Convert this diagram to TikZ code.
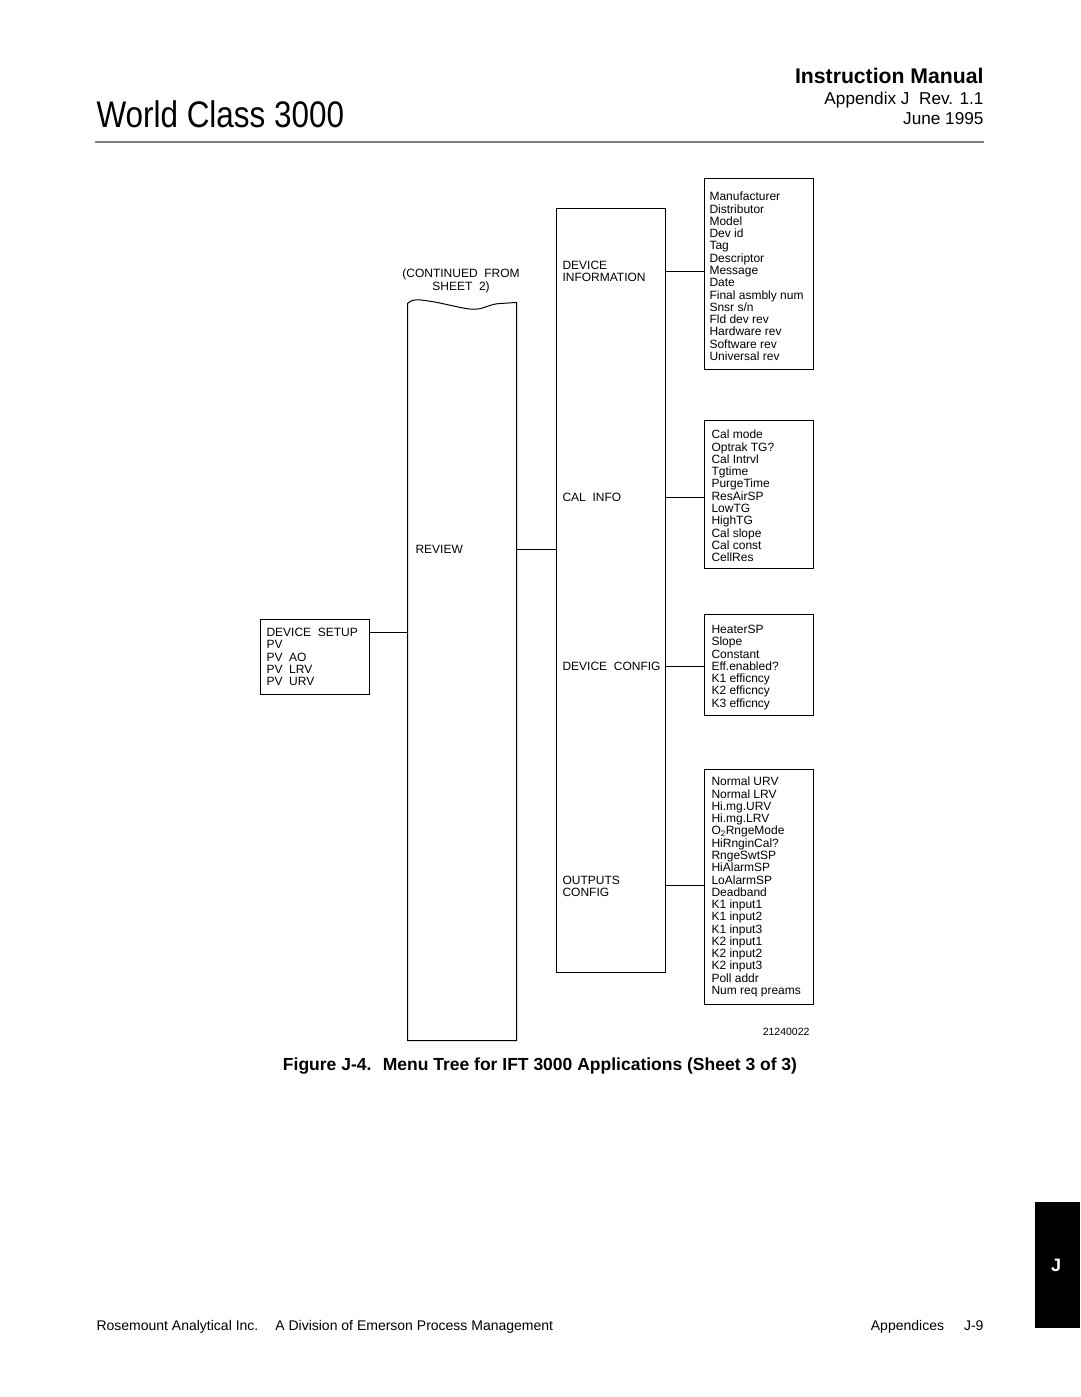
\documentclass[tikz,border=0pt]{standalone}
\usepackage{fontspec}
\setmainfont{Liberation Sans}
\newfontfamily\condfont[FakeStretch=0.85]{Liberation Sans}
\usetikzlibrary{calc}
\begin{document}
\begin{tikzpicture}[x=1pt,y=-1pt,line width=1pt,
  box/.style={draw,rectangle,inner sep=0pt,minimum width=109pt},
  lbl/.style={inner sep=0pt,anchor=north west,align=left,font=\fontsize{12}{12.27}\selectfont},
  conn/.style={draw,line width=1pt}]
\useasboundingbox (0,0) rectangle (1080,1397);

% ---------- header ----------
\node[inner sep=0pt,anchor=base west,font=\condfont\fontsize{37}{40}\selectfont] (title) at (96,127) {World Class 3000};
\node[inner sep=0pt,anchor=base east,font=\bfseries\fontsize{21.2}{24}\selectfont] (manual) at (984,84) {Instruction Manual};
\node[inner sep=0pt,anchor=base east,font=\fontsize{17.2}{20}\selectfont] (appx) at (984,104) {Appendix J~ Rev. 1.1};
\node[inner sep=0pt,anchor=base east,font=\fontsize{17.2}{20}\selectfont] (date) at (984,124) {June 1995};
\coordinate (ruleL) at (95,142);
\coordinate (ruleR) at (984,142);
\draw[gray,line width=1.2pt] (ruleL) -- (ruleR);

% ---------- diagram ----------
\node[lbl,anchor=north,align=center] (cont) at (461,268.7) {(CONTINUED~ FROM\\SHEET~ 2)};

% review column (wavy top)
\node[rectangle,inner sep=0pt,minimum width=108pt,minimum height=737pt] (review) at (462,671.5) {};
\draw ($(review.north west)+(0,1)$) .. controls (411,300) and (415,299) .. (425,300.5)
   .. controls (445,303) and (465,310) .. (476,309.2)
   .. controls (485,308.5) and (490,304) .. (500,303.5) -- (review.north east)
   -- (review.south east) -- (review.south west) -- cycle;
\node[lbl] (revlbl) at (415,544.7) {REVIEW};

% device setup box
\node[box,minimum height=75pt] (setup) at (314.5,656.5) {};
\node[lbl] (setuplbl) at (266,627.7) {DEVICE~ SETUP\\PV\\PV~ AO\\PV~ LRV\\PV~ URV};
\coordinate (setupY) at (0,632);
\draw (setup.east |- setupY) -- (review.west |- setupY);

% middle column
\node[box,minimum height=764pt] (mid) at (610.5,590) {};
\coordinate (revY) at (0,549);
\draw (review.east |- revY) -- (mid.west |- revY);

\node[lbl] (infolbl) at (562,260.7) {DEVICE\\INFORMATION};
\node[lbl] (callbl) at (562,492.7) {CAL~ INFO};
\node[lbl] (cfglbl) at (562,661.7) {DEVICE~ CONFIG};
\node[lbl] (outlbl) at (562,875.7) {OUTPUTS\\CONFIG};

% right boxes
\node[box,minimum height=191pt] (info) at (758.5,273.5) {};
\node[lbl] (infotxt) at (709,191.7) {Manufacturer\\Distributor\\Model\\Dev id\\Tag\\Descriptor\\Message\\Date\\Final asmbly num\\Snsr s/n\\Fld dev rev\\Hardware rev\\Software rev\\Universal rev};

\node[box,minimum height=148pt] (cal) at (758.5,494) {};
\node[lbl] (caltxt) at (711,429.7) {Cal mode\\Optrak TG?\\Cal Intrvl\\Tgtime\\PurgeTime\\ResAirSP\\LowTG\\HighTG\\Cal slope\\Cal const\\CellRes};

\node[box,minimum height=101pt] (cfg) at (758.5,664.5) {};
\node[lbl] (cfgtxt) at (711,624.7) {HeaterSP\\Slope\\Constant\\Eff.enabled?\\K1 efficncy\\K2 efficncy\\K3 efficncy};

\node[box,minimum height=235pt] (out) at (758.5,886.5) {};
\node[lbl] (outtxt) at (711,776.7) {Normal URV\\Normal LRV\\Hi.mg.URV\\Hi.mg.LRV\\O\textsubscript{2}RngeMode\\HiRnginCal?\\RngeSwtSP\\HiAlarmSP\\LoAlarmSP\\Deadband\\K1 input1\\K1 input2\\K1 input3\\K2 input1\\K2 input2\\K2 input3\\Poll addr\\Num req preams};

\coordinate (infoY) at (0,271);
\coordinate (calY) at (0,497);
\coordinate (cfgY) at (0,666);
\coordinate (outY) at (0,885);
\draw (mid.east |- infoY) -- (info.west |- infoY);
\draw (mid.east |- calY) -- (cal.west |- calY);
\draw (mid.east |- cfgY) -- (cfg.west |- cfgY);
\draw (mid.east |- outY) -- (out.west |- outY);

\node[inner sep=0pt,anchor=east,font=\fontsize{10.5}{12}\selectfont] (fignum) at (810,1032) {21240022};

% caption
\node[inner sep=0pt,anchor=base,font=\bfseries\fontsize{17.5}{20}\selectfont] (caption) at (540,1070) {Figure J-4.~ Menu Tree for IFT 3000 Applications (Sheet 3 of 3)};

% footer
\node[inner sep=0pt,anchor=base west,font=\fontsize{14}{16}\selectfont] (footL) at (96,1330.5) {Rosemount Analytical Inc.\hspace{17pt}A Division of Emerson Process Management};
\node[inner sep=0pt,anchor=base east,font=\fontsize{14}{16}\selectfont] (footR) at (984,1330.5) {Appendices\hspace{20pt}J-9};

% tab
\fill[black] (1035,1202) rectangle (1080,1328);
\node[inner sep=0pt,text=white,font=\bfseries\fontsize{18}{20}\selectfont] (tab) at (1056,1265) {J};
\end{tikzpicture}
\end{document}
